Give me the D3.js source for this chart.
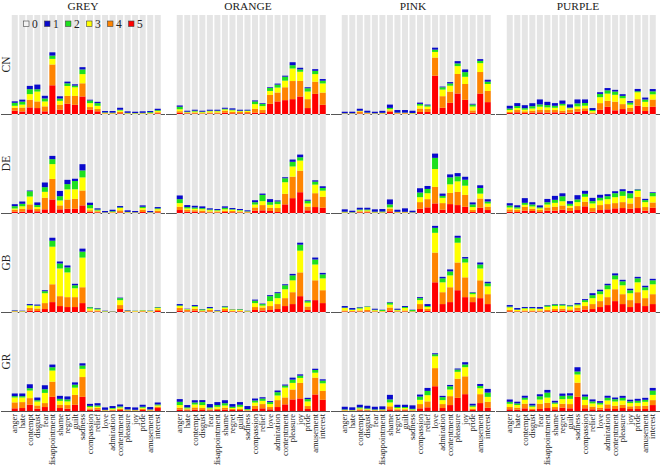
<!DOCTYPE html>
<html><head><meta charset="utf-8">
<script src="https://cdn.jsdelivr.net/npm/d3@7"></script>
<style>body{margin:0;background:#fff}svg{display:block}</style>
</head><body><svg id="c" width="661" height="465"></svg>
<script>
const categories = ["anger","hate","contempt","disgust","fear","disappointment","shame","regret","guilt","sadness","compassion","relief","love","admiration","contentment","pleasure","joy","pride","amusement","interest"];
const colourNames = ["GREY","ORANGE","PINK","PURPLE"];
const countries = ["CN","DE","GB","GR"];
const legendLevels = ["0","1","2","3","4","5"];
// each row: percent answering level [5,4,3,2,1] for one category (rest = 0)
const stackLevels = ["5","4","3","2","1"];

const CN_GREY = [[3.3,3,2,3,1.5],[2.5,4,3,3,2],[6.7,7.7,5.7,5,3.3],[6,6.7,10,2.3,4.7],[2.7,5,5,3,2.7],[29,21,5.7,3.3,3.3],[4.3,5,4,2.3,2.3],[10.3,8,10,2.7,1.7],[9.3,9,8.7,1.7,1.3],[17.7,13.3,9.3,4.7,2.3],[4.3,2.7,4,2.7,0.7],[2.7,2.3,3.3,2.7,1.3],[0.3,0.3,0.5,0.5,1.4],[0.3,0.3,0.3,0.5,1.6],[0.7,1.5,1.3,0.8,2],[0.2,0.3,0.3,0.4,1.5],[0.2,0.2,0.3,0.3,1.3],[0.2,0.3,0.3,0.4,1.5],[0.3,0.3,0.5,0.8,1.1],[0.7,1,1.3,0.8,1.5]];
const CN_ORANGE = [[1.3,1.5,2,2.5,1.3],[0.5,0.8,0.5,0.5,1],[0.5,1,1,0.8,1],[0.3,0.5,1,0.5,1],[0.5,1,1.3,0.5,1],[0.5,1,1.3,0.5,1],[1.3,2,1.3,0.7,1],[0.7,1.5,1.5,0.7,1.3],[0.7,1.3,0.8,0.5,1],[0.7,1.3,1,0.5,0.8],[1.3,4,4.7,2.7,1],[1,3,4,2.3,0.7],[10.3,9,4,3,0.7],[12.7,9,5,3,1],[14,13,6.7,4,1],[15,18.3,12.7,3.3,3],[17.7,15.7,9.3,2.3,1.7],[6,9,7.7,3.3,1],[20.3,12.3,7.7,3.3,1.7],[9.3,12.3,9.3,2.7,1.7]];
const CN_PINK = [[0.2,0.2,0.2,0.2,1.5],[0.2,0.2,0.2,0.2,1.5],[0.5,2,0.5,0.3,2],[0.3,0.5,0.3,0.3,1.9],[0.2,0.2,0.2,0.2,1.5],[0.3,0.3,0.3,0.3,2],[2.3,1.3,1.3,1.3,3.3],[0.3,0.5,0.3,0.3,2.6],[0.3,0.5,0.3,0.3,2.6],[0.2,0.3,0.3,0.2,2.3],[2,3.5,3,1.7,1.3],[2,3,2.5,1.3,0.7],[38.7,18.3,5.7,2.3,2],[6.3,11.7,6.7,2.3,0.7],[11.3,11.3,6,2.3,1.3],[20.7,19.7,8,2.7,2.3],[14.3,16,7.3,4.7,2.7],[1.3,2.3,4,2,0.7],[20.7,21.7,9,2.3,1.7],[12,11.3,7,2.3,2]];
const CN_PURPLE = [[1,1.3,1.7,1.5,2.8],[1.7,2.3,2,2,3],[1,1.7,1.7,1.5,3],[1.3,2,2.3,2.3,3],[1.7,2.7,3,2.3,5],[1.3,2.7,2.7,2.3,3.3],[1.7,2.3,2.3,2,2.7],[1.3,2,5.3,1.7,3.3],[1.3,3,1.5,0.7,3.2],[2.3,2.7,2.7,3,4],[3,2.7,2.7,2.7,3.6],[0.5,1,1.5,1,2],[4.3,6.7,6,3.3,1.7],[7.3,6,7.3,3.3,2.3],[3.7,8.7,7,3.3,1.7],[5,5,6,2.3,1.7],[2.5,3.7,3.3,2,1.5],[8.3,6.7,7,1,2.3],[3,4.3,5,2.3,2],[7.3,7.3,5.3,3,2.3]];

const DE_GREY = [[1.3,2,1.3,2.3,2],[1.3,3,2.5,2.5,2.3],[3.7,5,8,5.3,0.7],[1.7,2.3,2,2,2.7],[3.7,11.7,6,4.7,4.7],[13.7,20.7,15,5,3.3],[3.7,4,5,4.3,5.3],[4.3,9.3,10.3,5.3,4.3],[4.3,10,9.7,8.3,2.3],[7.7,15,13.3,7,6.3],[1.3,1.5,2,3.3,2.3],[0.7,1,0.8,1,1.2],[0.1,0.2,0.2,0.2,1.3],[0.3,0.3,0.5,0.7,1.5],[0.7,2,2.3,0.7,1.3],[0.2,0.3,0.3,0.3,1.6],[0.2,0.2,0.2,0.2,1.2],[1,2.3,1.7,1.3,1.4],[0.2,0.2,0.2,0.2,1.2],[0.7,1.7,1.5,0.8,1.3]];
const DE_ORANGE = [[3,3.3,3.7,4,3.7],[1.3,1.7,1.7,1.3,2],[1.3,1.5,1.5,1.3,1.7],[0.7,1.7,1.5,1,1.8],[0.5,1,1.3,0.7,1.2],[0.5,1,1,0.5,1],[1,1.3,1.5,1.5,1.4],[0.7,1.3,1.3,0.5,1.2],[0.5,1,1,0.5,1],[0.3,0.5,0.5,0.4,1],[2.3,3.3,3,2.3,2],[2.7,5.3,4,6.3,1.3],[2,3.3,3,2.7,3],[1,4,4,2.7,1],[8.7,10.7,11.7,4,1],[15,21.7,10.3,4.7,2.3],[21,21.7,10.3,3.3,2.7],[2.7,3.7,3.3,2.7,1],[6,14,8.7,3,1.3],[5.3,11,6.3,2.7,1.7]];
const DE_PINK = [[0.2,0.3,0.3,0.5,2.4],[0.1,0.2,0.2,0.3,1.5],[0.7,1,1,0.8,1.8],[0.7,1,1,0.8,1.8],[0.2,0.3,0.3,0.5,2.4],[0.2,0.3,0.3,0.7,2.5],[1.7,2.7,1.3,3,5],[0.3,0.3,0.3,0.3,2.1],[0.3,0.3,0.3,0.3,3.5],[0.1,0.2,0.2,0.2,1.6],[4.3,6.7,5,4.7,4.3],[5.7,8.3,6,4.3,3],[9.7,16.7,18,11.3,4.3],[3.3,6.7,5.3,2,2.3],[9,11.3,8.7,7,3],[8,13.3,10.7,5,3.3],[6.3,12,9.3,6,3],[1,2,3,2.7,2],[5.3,9.3,5,5.7,2.7],[3,3.3,3.3,2,2.3]];
const DE_PURPLE = [[1.3,2.3,2,2,2.3],[1,2,1.5,1.3,2],[2.3,4,2,2,4.7],[2,2.3,2.3,2,2.3],[1,2,1.7,1,2],[2.3,3.3,3,2.3,3.3],[2.3,4,4,3,4],[3.3,4.3,4.3,5,3],[2,3.3,2,2,2.7],[3,4,4,2.7,4.3],[6.7,4.7,5,3,3],[1.3,3.7,4.7,2.3,3.3],[3,5,4.7,2.7,3],[3.7,5.3,5,3,2],[4.7,5.3,6,4,2],[5,6,6.3,4.7,2],[4.3,5.3,5.3,5,2.3],[5,11.3,6,1.3,0.4],[2.3,3.7,5,2,1.3],[5.3,5.3,6.3,3.3,0.7]];

const GB_GREY = [[0.3,0.3,0.3,0.3,0.5],[0.2,0.3,0.3,0.2,0.3],[1.5,2.5,2.5,0.5,1],[1,2.5,2.5,0.5,1],[3,6,10,2,1],[10,18,38,6,3],[6,10,28,5,2],[5,10,25,5,2],[5,10,9,3,1.5],[9,16,30,6,3],[0.5,1,2,1.3,0.2],[0.5,1,1,1,0.5],[0.2,0.2,0.3,0.3,0.3],[0.1,0.2,0.2,0.2,0.2],[3,4,5,2,0.5],[0.3,0.5,0.5,0.3,0.4],[0.2,0.3,0.5,0.2,0.1],[0.3,0.5,0.8,0.3,0.1],[0.2,0.3,0.5,0.3,0.2],[1,1.5,1.5,0.7,0.3]];
const GB_ORANGE = [[1.5,2.5,2,0.7,1.3],[0.5,1.5,0.7,0.3,0.3],[1.3,2,2,0.7,1],[0.3,0.7,0.7,1,0.3],[0.5,1.5,1.5,0.5,1],[0.2,0.3,0.3,0.3,0.6],[1,2,1.5,1,0.5],[0.5,0.7,1.3,0.3,0.2],[0.5,0.7,1,0.6,0.2],[0.2,0.3,0.3,0.3,0.2],[2,3,4,2.5,1],[1.5,3,2,1.5,0.5],[2,4,5,5,1],[3,5,6,5,1],[6,8,9,4,1],[8,12,12,5,1.5],[16,24,22,6,2],[2,3.5,4,1.5,0.7],[12,20,16,5,2],[9,13,12,4,1.5]];
const GB_PINK = [[0.5,1,2.5,0.5,1.5],[0.5,0.5,1,0.5,1.5],[0.5,1,2,1,0.5],[0.5,1.5,3,0.5,0.2],[0.3,0.5,1,0.5,1],[0.2,0.3,0.5,1,0.3],[1.5,3,3,2,0.5],[0.3,0.5,1,0.5,1],[0.5,1,2.5,1,1],[0.2,0.3,0.3,1.2,0.3],[3,5,4,2,1],[1,2,2,1,2],[30,30,20,5,2],[8,12,10,4,1.5],[10,15,12,4,2],[22,28,20,5,2],[15,20,15,4,1.5],[10,5,3,1.5,0.5],[14,18,12,4,2],[8,10,8,3,1.5]];
const GB_PURPLE = [[0.7,1.5,2.5,0.8,1.5],[0.3,0.7,1,0.5,1.5],[0.5,1,2,0.5,1],[0.5,1,2,0.5,1],[0.5,1,1.5,0.5,1.5],[0.7,1.5,3,1.3,0.5],[1,2,3,1.5,0.5],[1.3,2,3,1.2,0.5],[1,1.5,3,1,0.5],[1.3,3,2.5,1,1.2],[2.5,3.5,4,2,1],[3,5,6,3,2],[5,6,7,3,1.5],[7,8,8,4,1.5],[11,12,10,4,2],[8,10,9,4,1.5],[5,7,7,3,1.5],[9,11,10,4,1.5],[6,8,8,3,1.5],[8,10,10,4,1.5]];

const GR_GREY = [[2.7,6,5,1.3,2.7],[3,6,4.7,1.3,2.7],[6.3,6.7,7.7,2.3,4],[2.3,3.3,4,1.3,2.7],[4,4,10.3,3.7,4],[14.3,15.3,11.3,3.3,2.7],[3,3.3,4,2,3],[2.3,3.7,3.7,2,3],[6.3,10,7.3,3,2.3],[14.3,20,8.3,3.3,2.3],[1.3,1.3,1.3,1.3,2],[1.3,1.7,1.3,1.3,2.3],[0.3,0.3,0.3,0.3,2.4],[0.5,0.8,1,0.7,2],[1,1.3,1.3,1,2],[0.3,0.5,0.5,0.3,2.4],[0.3,0.3,0.3,0.3,2.4],[1,1.3,1,1,2],[0.3,0.5,0.5,0.3,2.4],[3,1.3,1.3,1,2]];
const GR_ORANGE = [[1.3,2,2.7,3.3,2.7],[0.7,1,1,1,2.3],[1.3,2.3,3,2,2.3],[1,2,3,3,2],[0.7,1,1,1,3.3],[1,1.3,2,1.7,3],[1.3,2,2.3,2.3,3],[1,1,1,1.3,2.7],[1,1.3,2,2,2.7],[0.3,0.5,0.5,0.7,3],[2,3.3,3.3,2,2],[2.7,4.3,3.3,2.3,1.3],[1.7,2.3,3,2,1],[4,7,4.7,3.3,1.7],[6.7,7,10,2,1],[11.7,10,6.7,3.3,2],[12.7,15.7,5,2.3,1.3],[2,3,4.7,2.3,1.3],[16.7,17,5,2.7,1.3],[11.3,9,7.7,2.7,1.3]];
const GR_PINK = [[0.3,0.3,0.5,0.5,2.7],[0.2,0.3,0.3,0.3,2.6],[0.7,1,1,1,2.6],[0.5,0.7,0.7,0.7,2.7],[0.3,0.3,0.5,0.5,2.7],[0.3,0.5,0.5,0.5,2.9],[1.7,3,4,3,4.6],[0.7,1,1.3,1,2.3],[0.7,1,1.3,1,2.3],[0.3,0.5,0.7,0.7,3.5],[2.7,4.3,4.3,3.3,2],[3.7,6,6.3,4.3,3],[25,18.3,12,2,1],[3,4,4,3,1.3],[6,9,6.7,3.3,1.3],[13.3,19.3,7,2.3,1],[17,18,9.3,2.7,2.3],[1,1.3,2,1.3,1.7],[8,9,6,2.3,2],[3.3,6,5,4.3,3.7]];
const GR_PURPLE = [[1.7,2.3,3.3,2,2.3],[1.3,2,2.7,1.7,1.7],[2.7,4.7,4,2,2],[1,1.3,2,1.3,1.7],[2,5.3,4.3,3.3,2],[3,5.3,5.3,5,2.7],[1.7,2.3,3.3,1.3,1.7],[3.3,4,4.7,3.3,2.3],[2.7,4.3,5.3,3.3,2.3],[14.3,14.3,8.3,3,4.3],[2.7,3.3,5.3,3.3,2],[1.7,2.7,3.3,2,2],[1.3,2,3.3,1.7,1.7],[2.7,4,4,2.7,2],[2,3.3,4.3,2.3,1.7],[3,3.3,4.3,2.7,2],[2,2.7,3.3,1.7,1.7],[2,3,3.3,2,2],[2,3.3,4,2,2],[6,5,5.3,4.3,2.7]];

const panels = {
  CN: [CN_GREY, CN_ORANGE, CN_PINK, CN_PURPLE],
  DE: [DE_GREY, DE_ORANGE, DE_PINK, DE_PURPLE],
  GB: [GB_GREY, GB_ORANGE, GB_PINK, GB_PURPLE],
  GR: [GR_GREY, GR_ORANGE, GR_PINK, GR_PURPLE]
};

const levelColour = {"0":"#e5e5e5","1":"#0a0acc","2":"#1ee01e","3":"#ffff00","4":"#ff8400","5":"#ff0000"};
const FONT = "'Liberation Serif','DejaVu Serif',serif";

const svg = d3.select("#c");
const colStep = 165, colX0 = 11, panelW = 150.5;
const rowTop0 = 15, panelH = 99;

const y = d3.scaleLinear().domain([0, 100]).range([panelH, 0]);
const stack = d3.stack().keys(stackLevels.map((k, i) => i)).value((d, k) => d[k]);

colourNames.forEach((cn, ci) => {
  const x0 = colX0 + ci * colStep;
  const x = d3.scaleBand().domain(categories).range([x0, x0 + panelW]).paddingInner(0.2).paddingOuter(0.1);
  svg.append("text").attr("x", x0 + 72).attr("y", 9.5).attr("text-anchor", "middle")
    .attr("font-family", FONT).attr("font-size", 11.4).attr("fill", "#222").text(cn);

  countries.forEach((country, ri) => {
    const top = rowTop0 + ri * panelH;
    const g = svg.append("g").attr("transform", `translate(0,${top})`);
    const data = panels[country][ci];
    g.selectAll("rect.bg").data(categories).join("rect")
      .attr("x", d => x(d)).attr("width", x.bandwidth())
      .attr("y", y(100)).attr("height", y(0) - y(100)).attr("fill", levelColour["0"]);
    const series = stack(data);
    series.forEach((s, si) => {
      g.selectAll(null).data(s).join("rect")
        .attr("x", (d, i) => x(categories[i])).attr("width", x.bandwidth())
        .attr("y", d => y(d[1])).attr("height", d => y(d[0]) - y(d[1]))
        .attr("fill", levelColour[stackLevels[si]]);
    });
    g.append("line").attr("x1", x0 - 10).attr("x2", x0 + 154).attr("y1", y(0) + 0.5).attr("y2", y(0) + 0.5)
      .attr("stroke", "#555").attr("stroke-width", 1);
    if (ci === 0) {
      svg.append("text").attr("transform", `translate(9.5,${top + panelH / 2}) rotate(-90)`)
        .attr("text-anchor", "middle").attr("font-family", FONT).attr("font-size", 11.5)
        .attr("fill", "#222").text(country);
    }
  });

  const base = rowTop0 + countries.length * panelH;
  const axis = d3.axisBottom(x).tickSize(0).tickPadding(0);
  const ag = svg.append("g").attr("transform", `translate(0,${base})`).call(axis);
  ag.select(".domain").remove();
  ag.selectAll("text").attr("font-family", FONT).attr("font-size", 8.5).attr("fill", "#222")
    .attr("transform", "rotate(-90)").attr("text-anchor", "end")
    .attr("x", -3).attr("y", 0).attr("dy", "0.32em");
});

const lg = svg.append("g").attr("transform", "translate(23.5,21)");
legendLevels.forEach((lv, i) => {
  const gx = i * 21;
  lg.append("rect").attr("x", gx).attr("y", 0).attr("width", 5.5).attr("height", 5.5)
    .attr("fill", lv === "0" ? "#f2f2f2" : levelColour[lv]).attr("stroke", "#444").attr("stroke-width", 0.6);
  lg.append("text").attr("x", gx + 8.5).attr("y", 6.5).attr("font-family", FONT).attr("font-size", 11.5)
    .attr("fill", "#222").text(lv);
});
</script></body></html>
